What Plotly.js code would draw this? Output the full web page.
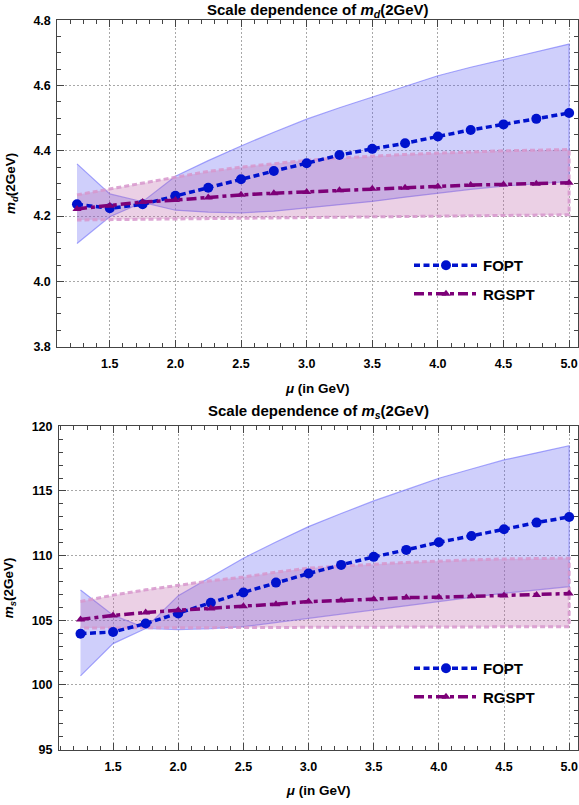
<!DOCTYPE html>
<html>
<head>
<meta charset="utf-8">
<script src="https://cdn.plot.ly/plotly-3.0.1.min.js"></script>
<style>html,body{margin:0;padding:0;background:#fff;}#chart{width:579px;height:805px;}</style>
</head>
<body>
<div id="chart"></div>
<script>
// ---------- data ----------
var mu = [1.25, 1.5, 1.75, 2.0, 2.25, 2.5, 2.75, 3.0, 3.25, 3.5, 3.75, 4.0, 4.25, 4.5, 4.75, 5.0];

// m_d(2GeV)
var fopt_md    = [4.236, 4.224, 4.236, 4.262, 4.287, 4.313, 4.338, 4.362, 4.387, 4.406, 4.423, 4.444, 4.464, 4.481, 4.498, 4.516];
var fopt_md_hi = [4.360, 4.268, 4.244, 4.322, 4.370, 4.415, 4.457, 4.497, 4.532, 4.565, 4.598, 4.630, 4.656, 4.680, 4.704, 4.727];
var fopt_md_lo = [4.116, 4.198, 4.242, 4.218, 4.212, 4.210, 4.215, 4.225, 4.235, 4.245, 4.258, 4.271, 4.282, 4.292, 4.299, 4.306];
var rgspt_md    = [4.222, 4.232, 4.243, 4.249, 4.257, 4.265, 4.270, 4.274, 4.279, 4.284, 4.287, 4.291, 4.295, 4.297, 4.299, 4.302];
var rgspt_md_hi = [4.265, 4.283, 4.303, 4.321, 4.337, 4.350, 4.361, 4.371, 4.378, 4.384, 4.389, 4.393, 4.397, 4.400, 4.402, 4.404];
var rgspt_md_lo = [4.188, 4.189, 4.190, 4.191, 4.192, 4.193, 4.195, 4.196, 4.197, 4.198, 4.199, 4.200, 4.201, 4.202, 4.203, 4.204];

// m_s(2GeV)
var fopt_ms    = [103.96, 104.09, 104.74, 105.52, 106.35, 107.15, 107.91, 108.61, 109.28, 109.90, 110.44, 111.03, 111.52, 112.04, 112.55, 112.99];
var fopt_ms_hi = [107.33, 105.39, 104.40, 106.90, 108.35, 109.80, 111.05, 112.24, 113.25, 114.23, 115.10, 115.98, 116.70, 117.40, 117.95, 118.50];
var fopt_ms_lo = [100.70, 103.19, 104.36, 104.28, 104.35, 104.50, 104.83, 105.16, 105.48, 105.80, 106.12, 106.45, 106.77, 107.09, 107.35, 107.60];
var rgspt_ms    = [105.05, 105.37, 105.60, 105.78, 105.91, 106.09, 106.24, 106.44, 106.52, 106.63, 106.75, 106.78, 106.86, 106.91, 106.96, 107.06];
var rgspt_ms_hi = [106.45, 106.94, 107.35, 107.72, 108.05, 108.34, 108.72, 109.03, 109.20, 109.33, 109.47, 109.59, 109.67, 109.74, 109.78, 109.80];
var rgspt_ms_lo = [104.40, 104.40, 104.41, 104.42, 104.42, 104.43, 104.44, 104.45, 104.46, 104.47, 104.47, 104.48, 104.49, 104.50, 104.50, 104.50];

var seriesNames = ['FOPT', 'RGSPT'];
var titleTop = 'Scale dependence of <i>m</i><sub><i>d</i></sub>(2GeV)';
var titleBot = 'Scale dependence of <i>m</i><sub><i>s</i></sub>(2GeV)';
var yTitleTop = '<i>m</i><sub><i>d</i></sub>(2GeV)';
var yTitleBot = '<i>m</i><sub><i>s</i></sub>(2GeV)';
var xTitle = '<i>μ</i> (in GeV)';

// ---------- styles ----------
var W = 579, H = 805;
var FONT = 'Liberation Sans, Arial, sans-serif';
var blue = 'rgb(0,18,205)';
var purple = 'rgb(125,0,120)';
var blueFill = 'rgba(90,90,240,0.29)';
var blueEdge = 'rgba(110,110,250,0.6)';
var pinkFill = 'rgba(190,100,170,0.30)';
var pinkEdge = 'rgba(215,150,205,0.85)';

function band(lo, hi, xa, ya, fill, edge, dash, w) {
  return {
    x: mu.concat(mu.slice().reverse()),
    y: hi.concat(lo.slice().reverse()),
    xaxis: xa, yaxis: ya,
    type: 'scatter', mode: 'lines', fill: 'toself', fillcolor: fill,
    line: {color: edge, width: w, dash: dash},
    hoverinfo: 'skip', showlegend: false
  };
}
function central(y, name, xa, ya, color, dash, symbol, msize, legend, group) {
  return {
    x: mu, y: y, xaxis: xa, yaxis: ya, name: name,
    type: 'scatter', mode: 'lines+markers',
    line: {color: color, width: 3.5, dash: dash},
    marker: {color: color, size: msize, symbol: symbol},
    legend: legend, legendgroup: group
  };
}

var dotDash = '6px,3.5px';
var dashDot = '10px,4px,4px,4px';

var data = [
  band(fopt_md_lo, fopt_md_hi, 'x', 'y', blueFill, blueEdge, 'solid', 1.2),
  band(rgspt_md_lo, rgspt_md_hi, 'x', 'y', pinkFill, pinkEdge, '5px,3px', 3),
  central(fopt_md, seriesNames[0], 'x', 'y', blue, dotDash, 'circle', 10, 'legend', 'a1'),
  central(rgspt_md, seriesNames[1], 'x', 'y', purple, dashDot, 'triangle-up', 8, 'legend', 'a2'),
  band(fopt_ms_lo, fopt_ms_hi, 'x2', 'y2', blueFill, blueEdge, 'solid', 1.2),
  band(rgspt_ms_lo, rgspt_ms_hi, 'x2', 'y2', pinkFill, pinkEdge, '5px,3px', 3),
  central(fopt_ms, seriesNames[0], 'x2', 'y2', blue, dotDash, 'circle', 10, 'legend2', 'b1'),
  central(rgspt_ms, seriesNames[1], 'x2', 'y2', purple, dashDot, 'triangle-up', 8, 'legend2', 'b2')
];

var tickFont = {family: FONT, size: 12.5, color: '#000', weight: 'bold'};
var titleFont = {family: FONT, size: 13.5, color: '#000', weight: 'bold'};
var frameColor = '#444';

function xaxisDef(domain, range, anchor) {
  return {
    domain: domain, range: range, anchor: anchor,
    tick0: 0, dtick: 0.5, tickformat: '.1f',
    ticks: 'inside', ticklen: 7, tickwidth: 1, tickcolor: frameColor,
    minor: {dtick: 0.1, ticks: 'inside', ticklen: 4, tickwidth: 1, tickcolor: frameColor, showgrid: false},
    showline: true, linecolor: frameColor, linewidth: 1, mirror: 'ticks',
    showgrid: true, gridcolor: '#a8a8a8', griddash: '1.5px,2.5px', gridwidth: 1,
    zeroline: false, tickfont: tickFont, ticklabelstandoff: 5,
    title: {text: xTitle, font: titleFont, standoff: 13},
    automargin: false, fixedrange: true
  };
}
function yaxisDef(domain, range, dtick, minor, anchor, title, fmt) {
  return {
    domain: domain, range: range, anchor: anchor,
    tick0: 0, dtick: dtick, tickformat: fmt,
    ticks: 'inside', ticklen: 7, tickwidth: 1, tickcolor: frameColor,
    minor: {dtick: minor, ticks: 'inside', ticklen: 4, tickwidth: 1, tickcolor: frameColor, showgrid: false},
    showline: true, linecolor: frameColor, linewidth: 1, mirror: 'ticks',
    showgrid: true, gridcolor: '#a8a8a8', griddash: '1.5px,2.5px', gridwidth: 1,
    zeroline: false, tickfont: tickFont, ticklabelstandoff: 3,
    title: {text: title, font: titleFont, standoff: 14},
    automargin: false, fixedrange: true
  };
}

var topXDom = [57.3 / W, 578.3 / W];
var botXDom = [59 / W, 578.3 / W];
var topYDom = [1 - 346.6 / H, 1 - 20.3 / H];
var botYDom = [1 - 749.5 / H, 1 - 426.3 / H];

var legendFont = {family: FONT, size: 15, color: '#000', weight: 'bold'};

var layout = {
  width: W, height: H,
  margin: {l: 0, r: 0, t: 0, b: 0},
  paper_bgcolor: '#fff', plot_bgcolor: '#fff',
  xaxis: xaxisDef(topXDom, [1.1, 5.07], 'y'),
  yaxis: yaxisDef(topYDom, [3.8, 4.8], 0.2, 0.05, 'x', yTitleTop, '.1f'),
  xaxis2: xaxisDef(botXDom, [1.085, 5.07], 'y2'),
  yaxis2: yaxisDef(botYDom, [95, 120], 5, 1, 'x2', yTitleBot, 'd'),
  legend: {x: 409 / W, y: 1 - 249 / H, xanchor: 'left', yanchor: 'top',
           bgcolor: 'rgba(0,0,0,0)', font: legendFont, itemwidth: 64, tracegroupgap: 6},
  legend2: {x: 409 / W, y: 1 - 652 / H, xanchor: 'left', yanchor: 'top',
           bgcolor: 'rgba(0,0,0,0)', font: legendFont, itemwidth: 64, tracegroupgap: 6},
  annotations: [
    {text: titleTop, xref: 'paper', yref: 'paper', x: (57.3 + 578.3) / 2 / W, y: 1 - 10 / H,
     xanchor: 'center', yanchor: 'middle', showarrow: false, font: {family: FONT, size: 15, color: '#000', weight: 'bold'}},
    {text: titleBot, xref: 'paper', yref: 'paper', x: (59 + 578.3) / 2 / W, y: 1 - 411 / H,
     xanchor: 'center', yanchor: 'middle', showarrow: false, font: {family: FONT, size: 15, color: '#000', weight: 'bold'}}
  ],
  showlegend: true
};

Plotly.newPlot('chart', data, layout, {displayModeBar: false, staticPlot: true});
</script>
</body>
</html>
